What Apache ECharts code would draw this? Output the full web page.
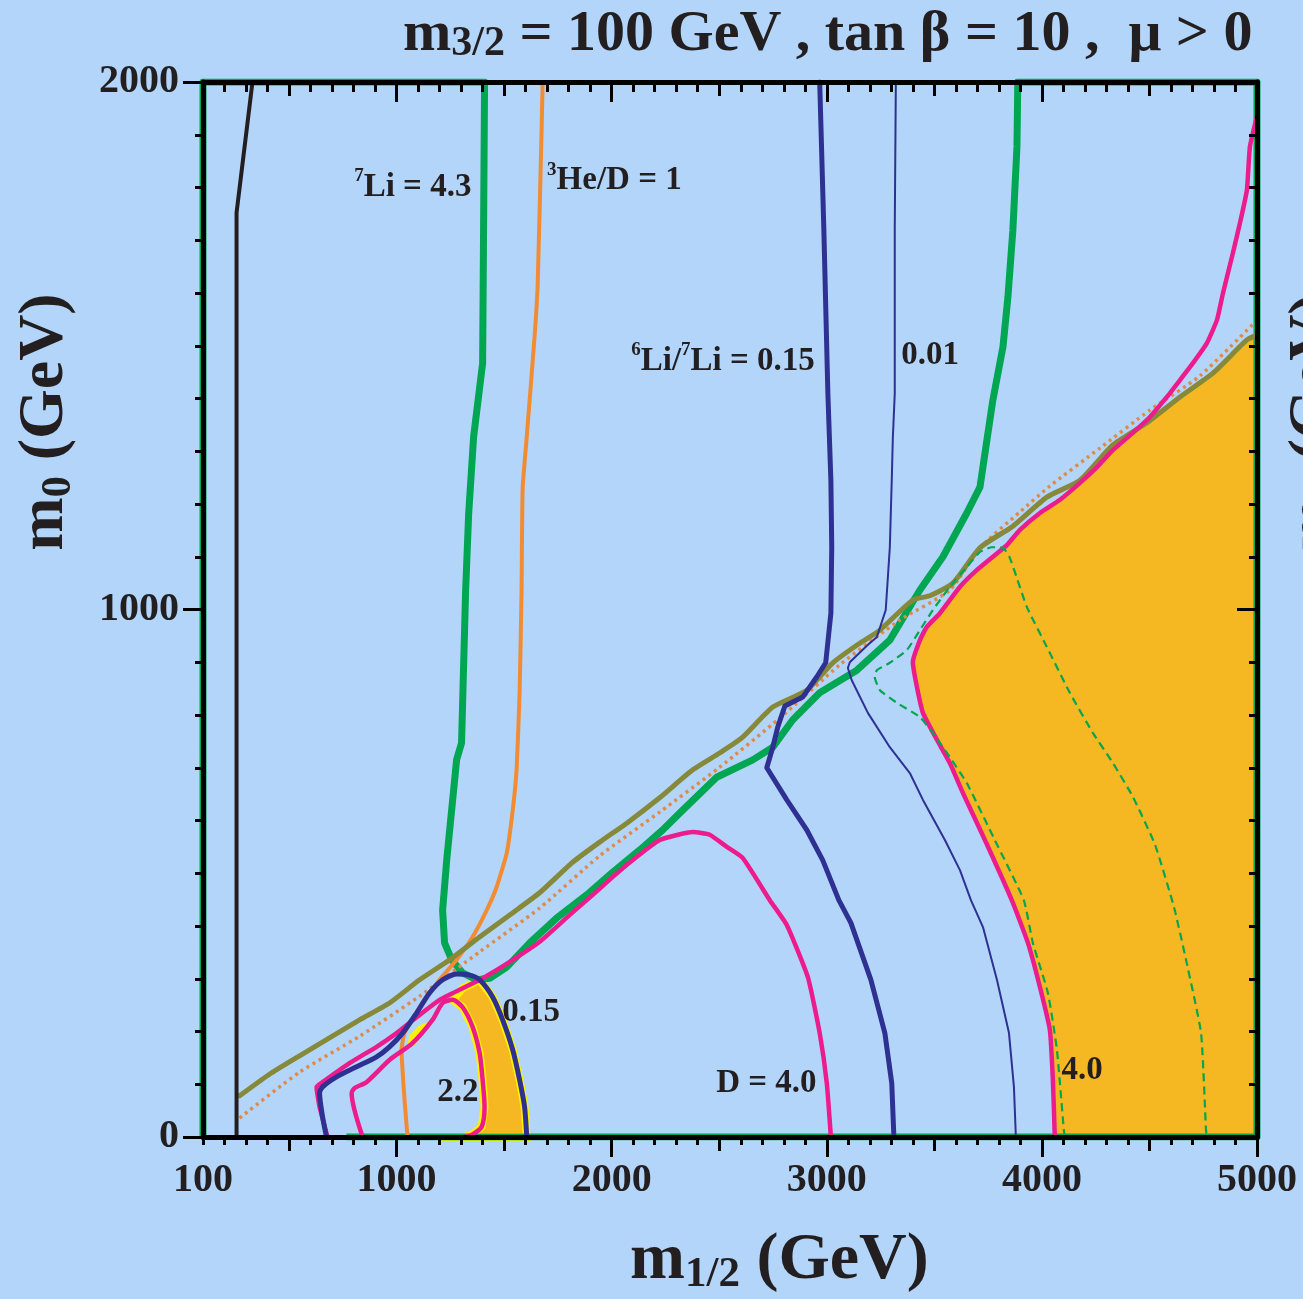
<!DOCTYPE html>
<html>
<head>
<meta charset="utf-8">
<script src="https://cdn.jsdelivr.net/npm/echarts@6/dist/echarts.min.js"></script>
<style>
  html, body { margin: 0; padding: 0; background: #b3d5fa; }
  #chart { width: 1303px; height: 1299px; }
</style>
</head>
<body>
<div id="chart"></div>
<script>
// Axis ticks and labels (m1/2 on x, m0 on y, both in GeV)
const xTicksMajor = [1000, 2000, 3000, 4000, 5000];
const xTicksMid = [500, 1500, 2500, 3500, 4500];
const xTickLabels = [100, 1000, 2000, 3000, 4000, 5000];
const yTicksMajor = [0, 1000, 2000];
const yTickLabels = [0, 1000, 2000];

// Contours as [m1/2, m0] pairs
const blackBoundary = [[256, 0], [256, 1752], [330, 2000]];

const li7Contour = [[767, 0], [5000, 0], [5000, 2000], [3888, 2000], [3884, 1877], [3865, 1719], [3842, 1592],
  [3819, 1498], [3772, 1397], [3712, 1232], [3651, 1183], [3540, 1100], [3433, 1037], [3293, 942], [3140, 885],
  [2967, 842], [2842, 791], [2749, 739], [2656, 715], [2488, 682], [2316, 614], [2237, 582], [2130, 544],
  [2005, 502], [1884, 459], [1744, 415], [1619, 368], [1512, 322], [1433, 301], [1372, 298], [1307, 311],
  [1256, 336], [1223, 368], [1214, 430], [1233, 525], [1256, 620], [1279, 715], [1302, 747], [1321, 1037],
  [1335, 1181], [1358, 1327], [1400, 1467], [1404, 1700], [1409, 2000], [100, 2000], [100, 0]];

const he3DContour = [[1679, 2000], [1674, 1907], [1656, 1617], [1642, 1520], [1605, 1327], [1586, 1230],
  [1581, 1037], [1572, 844], [1558, 698], [1540, 620], [1512, 538], [1465, 474], [1419, 430], [1353, 379],
  [1279, 336], [1200, 298], [1107, 246], [1037, 197], [1023, 165], [1037, 70], [1051, 0]];

const oliveBoundary = [[270, 78], [409, 119], [549, 154], [688, 188], [828, 222], [967, 254], [1107, 298],
  [1247, 336], [1386, 379], [1526, 421], [1665, 463], [1819, 521], [1944, 559], [2070, 595], [2223, 643],
  [2377, 696], [2502, 728], [2609, 758], [2749, 815], [2907, 847], [3028, 899], [3153, 936], [3247, 961],
  [3400, 1018], [3479, 1026], [3586, 1050], [3712, 1117], [3865, 1158], [4023, 1213], [4177, 1245],
  [4330, 1312], [4488, 1354], [4642, 1403], [4795, 1448], [4953, 1511], [5000, 1520]];

const dottedBoundary = [[270, 36], [549, 123], [828, 191], [1107, 267], [1386, 351], [1665, 434], [1944, 533],
  [2223, 616], [2502, 701], [2781, 794], [3060, 895], [3340, 980], [3572, 1037], [3712, 1117], [3898, 1185],
  [4037, 1234], [4270, 1306], [4502, 1378], [4735, 1443], [4991, 1545]];

const dContourLeft = [[679, 0], [642, 57], [628, 95], [656, 104], [781, 140], [907, 171], [1000, 197],
  [1093, 227], [1200, 260], [1307, 282], [1400, 301], [1526, 332], [1665, 370], [1805, 421], [1912, 459],
  [2005, 493], [2098, 525], [2223, 563], [2377, 578], [2456, 573], [2535, 550], [2609, 529], [2735, 449],
  [2814, 402], [2912, 303], [2967, 197], [3000, 102], [3019, 0]];

const dContour22 = [[842, 0], [791, 83], [805, 93], [860, 104], [967, 146], [1074, 178], [1167, 222],
  [1214, 254], [1260, 260], [1307, 246], [1353, 209], [1386, 159], [1400, 108], [1409, 57], [1395, 19],
  [1349, 4], [1316, 0]];

const dContourRight = [[5000, 1935], [4967, 1877], [4953, 1795], [4921, 1733], [4888, 1676], [4842, 1600],
  [4814, 1549], [4767, 1505], [4702, 1467], [4642, 1435], [4581, 1403], [4502, 1365], [4423, 1335],
  [4330, 1302], [4256, 1270], [4177, 1240], [4084, 1208], [3991, 1183], [3898, 1151], [3837, 1122],
  [3772, 1100], [3698, 1075], [3619, 1043], [3526, 993], [3465, 967], [3433, 942], [3400, 900], [3419, 853],
  [3447, 804], [3512, 753], [3572, 709], [3633, 652], [3735, 563], [3860, 449], [3935, 368], [3991, 284],
  [4037, 203], [4051, 108], [4060, 0]];

const li6Loop = [[674, 0], [656, 38], [642, 83], [656, 95], [721, 114], [814, 133], [907, 152], [967, 171],
  [1028, 197], [1093, 235], [1153, 273], [1214, 298], [1279, 309], [1340, 307], [1386, 298], [1447, 265],
  [1493, 222], [1540, 165], [1572, 108], [1595, 57], [1605, 0]];

const li6Main = [[2967, 2000], [2986, 1725], [3005, 1410], [3019, 1245], [3023, 1118], [3019, 993],
  [2995, 899], [2953, 872], [2888, 834], [2805, 817], [2772, 777], [2749, 739], [2721, 700], [2814, 639],
  [2907, 582], [2981, 525], [3056, 449], [3112, 406], [3205, 298], [3270, 197], [3302, 102], [3312, 0]];

const li6Thin = [[3321, 2000], [3316, 1725], [3316, 1410], [3307, 1325], [3302, 1245], [3293, 1118],
  [3274, 999], [3233, 948], [3191, 933], [3107, 900], [3098, 889], [3116, 866], [3191, 804], [3293, 739],
  [3386, 690], [3447, 639], [3549, 563], [3619, 506], [3670, 449], [3726, 398], [3791, 298], [3847, 197],
  [3870, 95], [3879, 0]];

const greenDashed = [[4107, 0], [4102, 13], [4070, 165], [4028, 273], [3958, 368], [3916, 449], [3781, 563],
  [3651, 671], [3572, 720], [3493, 766], [3433, 796], [3326, 823], [3247, 847], [3223, 872], [3233, 885],
  [3293, 899], [3372, 923], [3433, 961], [3493, 999], [3572, 1043], [3651, 1081], [3712, 1109], [3767, 1118],
  [3819, 1117], [3851, 1098], [3930, 1005], [4023, 929], [4130, 842], [4237, 766], [4330, 709], [4423, 645],
  [4526, 554], [4614, 436], [4670, 336], [4740, 197], [4763, 13], [4767, 0]];

const yellowSliver = [[1047, 169], [1060, 193], [1107, 212], [1144, 218], [1130, 199], [1084, 174]];

// Contour labels: [m1/2, m0, text]
const contourLabels = [
  [805, 1800, '{sup|7}{t|Li = 4.3}'],
  [1702, 1812, '{sup|3}{t|He/D = 1}'],
  [2093, 1470, '{sup|6}{t|Li/}{sup|7}{t|Li = 0.15}'],
  [3349, 1480, '{t|0.01}'],
  [1493, 236, '{t|0.15}'],
  [1191, 84, '{t|2.2}'],
  [2488, 100, '{t|D = 4.0}'],
  [4093, 125, '{t|4.0}']
];

// Shaded regions built from the contours
const crossY = 1335;
const bigRegion = [
  ...dContourRight.filter(p => p[1] <= crossY),
  [5000, 0],
  ...oliveBoundary.filter(p => p[0] > 4423).reverse()
];
const peak22 = dContour22.reduce((best, p, i) => (p[1] > dContour22[best][1] ? i : best), 0);
const smallRegion = [
  ...dContour22.slice(peak22),
  ...li6Loop.filter(p => p[0] >= 1386).reverse(),
  ...dContourLeft.filter(p => p[0] > 1260 && p[0] < 1386).reverse()
];

const SERIF = '"Liberation Serif", "Times New Roman", serif';
const INK = '#231f20';
const FILL = '#f6b822';

function polygon(name, pts, fill, stroke, strokeWidth) {
  return {
    type: 'custom', name, coordinateSystem: 'cartesian2d', z: 1, silent: true,
    data: [pts[0]],
    renderItem: (params, api) => ({
      type: 'polygon',
      shape: { points: pts.map(p => api.coord(p)) },
      style: { fill, stroke: stroke || null, lineWidth: strokeWidth || 0 }
    })
  };
}

function curve(name, pts, color, width, opts) {
  return Object.assign({
    type: 'line', name, data: pts, symbol: 'none', showSymbol: false, z: 3, silent: true,
    lineStyle: { color, width, cap: 'round', join: 'round' }
  }, opts || {});
}

const tickStyle = { color: '#000', width: 3 };
const plain = v => String(v);
const xBase = { type: 'value', min: 100, max: 5000, gridIndex: 0, z: 10, splitLine: { show: false },
  axisLabel: { show: false }, axisLine: { show: false, onZero: false }, axisTick: { show: false } };
const yBase = { type: 'value', min: 0, max: 2000, gridIndex: 0, z: 10, splitLine: { show: false },
  axisLabel: { show: false }, axisLine: { show: false, onZero: false }, axisTick: { show: false } };
const frameLine = { show: true, onZero: false, lineStyle: { color: '#000', width: 5 } };
const tickFont = { fontSize: 40, fontWeight: 'bold', fontFamily: SERIF, color: INK, formatter: plain };

const mainRich = (size, lh) => ({ fontSize: size, fontWeight: 'bold', fontFamily: SERIF, fill: INK, lineHeight: lh });
const subRich = (size, lh) => ({ fontSize: size, fontWeight: 'bold', fontFamily: SERIF, fill: INK, lineHeight: lh, verticalAlign: 'bottom' });

const chart = echarts.init(document.getElementById('chart'), null, { renderer: 'canvas' });
chart.setOption({
  animation: false,
  backgroundColor: '#b3d5fa',
  grid: { left: 203, top: 82, width: 1054, height: 1055, containLabel: false },
  xAxis: [
    Object.assign({}, xBase, { position: 'bottom', axisLine: frameLine,
      axisTick: { show: true, inside: false, length: 20, customValues: xTicksMajor, lineStyle: tickStyle },
      axisLabel: Object.assign({ show: true, customValues: xTickLabels, margin: 24 }, tickFont) }),
    Object.assign({}, xBase, { position: 'bottom',
      axisTick: { show: true, length: 14, customValues: xTicksMid, lineStyle: tickStyle } }),
    Object.assign({}, xBase, { position: 'bottom', interval: 100,
      axisTick: { show: true, length: 8, lineStyle: tickStyle } }),
    Object.assign({}, xBase, { position: 'top', axisLine: frameLine,
      axisTick: { show: true, inside: true, length: 20, customValues: xTicksMajor, lineStyle: tickStyle } }),
    Object.assign({}, xBase, { position: 'top',
      axisTick: { show: true, inside: true, length: 14, customValues: xTicksMid, lineStyle: tickStyle } }),
    Object.assign({}, xBase, { position: 'top', interval: 100,
      axisTick: { show: true, inside: true, length: 10, lineStyle: tickStyle } })
  ],
  yAxis: [
    Object.assign({}, yBase, { position: 'left', axisLine: frameLine,
      axisTick: { show: true, inside: false, length: 20, customValues: yTicksMajor, lineStyle: tickStyle },
      axisLabel: Object.assign({ show: true, customValues: yTickLabels, margin: 24 }, tickFont) }),
    Object.assign({}, yBase, { position: 'left', interval: 100,
      axisTick: { show: true, length: 8, lineStyle: tickStyle } }),
    Object.assign({}, yBase, { position: 'right', axisLine: frameLine,
      axisTick: { show: true, inside: true, length: 20, customValues: [1000], lineStyle: tickStyle } }),
    Object.assign({}, yBase, { position: 'right', interval: 100,
      axisTick: { show: true, inside: true, length: 8, lineStyle: tickStyle } })
  ],
  series: [
    polygon('excluded', bigRegion, FILL),
    polygon('excluded-low', smallRegion, FILL, '#fff200', 8),
    polygon('sliver', yellowSliver, '#fff200'),
    curve('7Li = 4.3', li7Contour, '#00a651', 7, { lineStyle: { color: '#00a651', width: 7, join: 'round' } }),
    curve('3He/D = 1', he3DContour, '#f28c32', 4, { smooth: 0.15 }),
    curve('dotted', dottedBoundary, '#e08a48', 3.5, { smooth: 0.2, lineStyle: { color: '#e08a48', width: 3.5, type: [3, 4], cap: 'butt' } }),
    curve('boundary', oliveBoundary, '#86883a', 5, { smooth: 0.2 }),
    curve('D = 4.0', dContourLeft, '#ec1c8c', 4.5, { smooth: 0.15 }),
    curve('D = 2.2', dContour22, '#ec1c8c', 4.5, { smooth: 0.25 }),
    curve('D = 4.0 right', dContourRight, '#ec1c8c', 4.5, { smooth: 0.15 }),
    curve('6Li/7Li = 0.15 loop', li6Loop, '#2e3192', 5, { smooth: 0.25 }),
    curve('6Li/7Li = 0.15', li6Main, '#2e3192', 5),
    curve('6Li/7Li = 0.01', li6Thin, '#2e3192', 2),
    curve('dashed', greenDashed, '#00a651', 2.2, { smooth: 0.15, lineStyle: { color: '#00a651', width: 2.2, type: [8, 5] } }),
    curve('black', blackBoundary, INK, 4),
    {
      type: 'scatter', name: 'labels', z: 8, silent: true, symbol: 'circle', symbolSize: 1,
      itemStyle: { color: 'rgba(0,0,0,0)', opacity: 1 },
      data: contourLabels.map(l => ({ value: [l[0], l[1]], label: { formatter: l[2] } })),
      label: {
        show: true, position: [0, 0], align: 'left', verticalAlign: 'middle', color: INK, opacity: 1,
        rich: {
          t: { fontSize: 33, fontWeight: 'bold', fontFamily: SERIF, color: INK, lineHeight: 40 },
          sup: { fontSize: 19, fontWeight: 'bold', fontFamily: SERIF, color: INK, lineHeight: 8, verticalAlign: 'top' }
        }
      }
    }
  ],
  graphic: [
    { type: 'text', x: 403, y: 35, z: 100, silent: true,
      style: { text: '{m|m}{s|3/2}{m| = 100 GeV , tan β = 10 ,  μ > 0}', align: 'left', verticalAlign: 'middle',
        rich: { m: mainRich(58, 60), s: subRich(42, 22) } } },
    { type: 'text', x: 630, y: 1261, z: 100, silent: true,
      style: { text: '{m|m}{s|1/2}{m| (GeV)}', align: 'left', verticalAlign: 'middle',
        rich: { m: mainRich(66, 70), s: subRich(43, 32) } } },
    { type: 'text', x: 45, y: 422, rotation: Math.PI / 2, z: 100, silent: true,
      style: { text: '{m|m}{s|0}{m| (GeV)}', align: 'center', verticalAlign: 'middle',
        rich: { m: mainRich(64, 70), s: subRich(42, 32) } } },
    { type: 'text', x: 1315, y: 422, rotation: Math.PI / 2, z: 100, silent: true,
      style: { text: '{m|m}{s|0}{m| (GeV)}', align: 'center', verticalAlign: 'middle',
        rich: { m: mainRich(64, 70), s: subRich(42, 32) } } }
  ]
});
</script>
</body>
</html>
